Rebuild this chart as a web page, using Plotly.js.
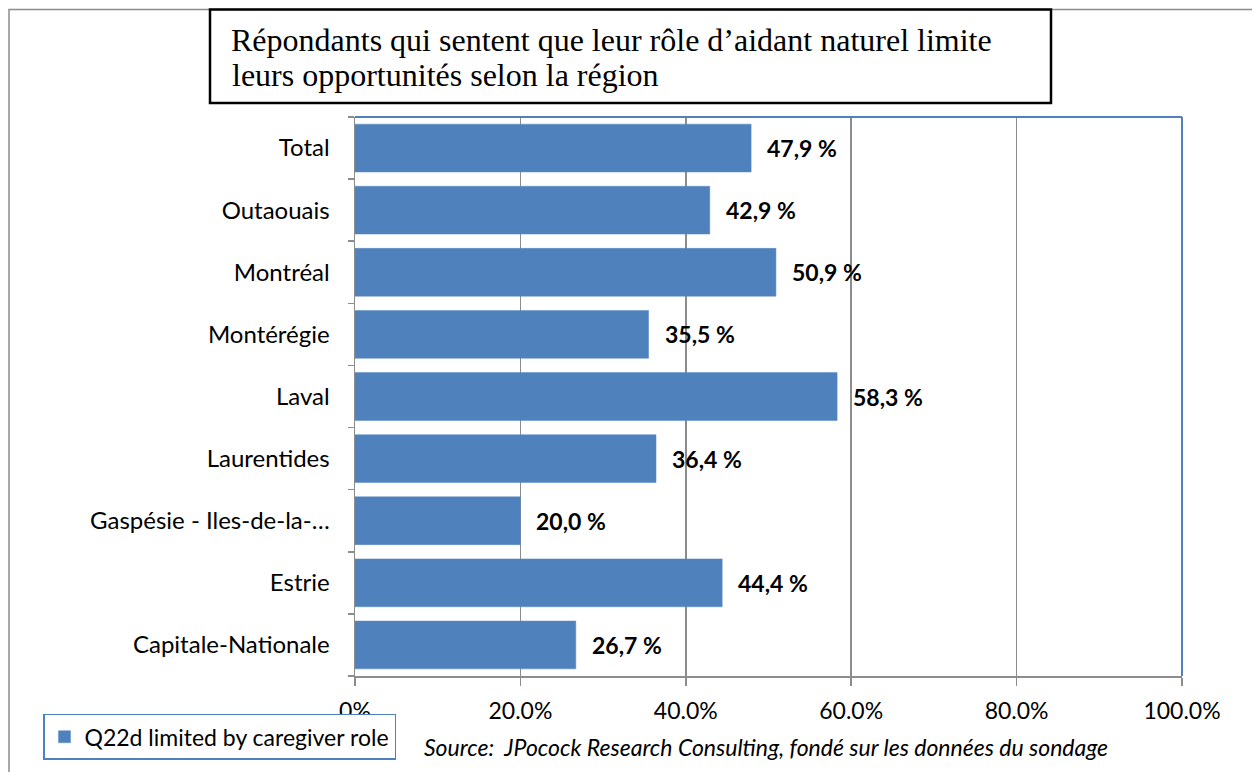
<!DOCTYPE html>
<html><head><meta charset="utf-8">
<script src="https://cdn.plot.ly/plotly-3.0.1.min.js"></script>
<style>html,body{margin:0;padding:0;background:#fff;}#chart{width:1252px;height:772px;}</style>
</head><body><div id="chart"></div>
<script>
const categories = ["Capitale-Nationale","Estrie","Gaspésie - Iles-de-la-…","Laurentides","Laval","Montérégie","Montréal","Outaouais","Total"];
const values = [26.7, 44.4, 20.0, 36.4, 58.3, 35.5, 50.9, 42.9, 47.9];
const tickVals = [0,20,40,60,80,100];
const tickText = ["0%","20.0%","40.0%","60.0%","80.0%","100.0%"];
const seriesName = "Q22d limited by caregiver role";
const titleLine1 = "Répondants qui sentent que leur rôle d’aidant naturel limite";
const titleLine2 = "leurs opportunités selon la région";
const sourceText = "Source:  JPocock Research Consulting, fondé sur les données du sondage";

const W=1252,H=772, L=355, R=1182, T=117, B=679;
const px = x => (x-L)/(R-L);
const py = y => (B-y)/(B-T);
const fnt = "Lato, 'Open Sans', sans-serif";
const serif = "'Liberation Serif', 'Times New Roman', serif";

const labels = values.map(v => v.toFixed(1).replace('.', ',') + ' %');
const annotations = values.map((v,i)=>({
  x: v, y: categories[i], xref:'x', yref:'y', text: '<b>'+labels[i]+'</b>',
  showarrow:false, xanchor:'left', xshift:14, font:{family:fnt,size:23,color:'#000'}
}));
annotations.push({xref:'paper',yref:'paper',x:px(422),y:py(750),xanchor:'left',yanchor:'middle',
  text:'<i>'+sourceText+'</i>',showarrow:false,font:{family:fnt,size:23,color:'#000'}});
annotations.push({xref:'paper',yref:'paper',x:px(230),y:py(75),xanchor:'left',yanchor:'middle',
  text:titleLine2,showarrow:false,font:{family:serif,size:32,color:'#000'}});

const data=[{type:'bar',orientation:'h',y:categories,x:values,name:seriesName,
  marker:{color:'#4F81BD',line:{color:'#5A8AC6',width:0.5}},width:0.77,hoverinfo:'x+y'}];

const layout={
  width:W,height:H,margin:{l:L,r:W-R,t:T,b:H-B},
  paper_bgcolor:'#fff',plot_bgcolor:'#fff',
  title:{text:titleLine1,xref:'container',yref:'container',x:231/W,xanchor:'left',y:1-40/H,yanchor:'middle',
    font:{family:serif,size:32,color:'#000'}},
  xaxis:{range:[0,100],tickvals:tickVals,ticktext:tickText,showgrid:true,gridcolor:'#8c8c8c',gridwidth:1.5,
    zeroline:false,showline:true,linecolor:'#8c8c8c',linewidth:1.5,ticks:'outside',ticklen:8,tickcolor:'#8c8c8c',tickwidth:1.5,
    tickfont:{family:fnt,size:23,color:'#000'},ticklabelstandoff:6,fixedrange:true},
  yaxis:{type:'category',categoryorder:'array',categoryarray:categories,showline:true,linecolor:'#8c8c8c',linewidth:1.5,
    ticks:'outside',ticklen:6,tickcolor:'#8c8c8c',tickwidth:1.5,tickson:'boundaries',showgrid:false,
    tickfont:{family:fnt,size:24,color:'#000'},ticklabelstandoff:19,fixedrange:true},
  showlegend:true,
  legend:{x:px(43),y:py(717),xanchor:'left',yanchor:'top',bordercolor:'#4F81BD',borderwidth:1.5,bgcolor:'#fff',
    font:{family:fnt,size:23,color:'#000'},itemwidth:30,tracegroupgap:0},
  shapes:[
    {type:'rect',xref:'paper',yref:'paper',x0:px(9),x1:px(1262),y0:py(782),y1:py(9),line:{color:'#8c8c8c',width:1.5},layer:'below'},
    {type:'line',xref:'paper',yref:'paper',x0:0,x1:1,y0:1,y1:1,line:{color:'#4F81BD',width:2}},
    {type:'line',xref:'paper',yref:'paper',x0:1,x1:1,y0:0,y1:1,line:{color:'#4F81BD',width:2}},
    {type:'rect',xref:'paper',yref:'paper',x0:px(210),x1:px(1051),y0:py(103),y1:py(9),line:{color:'#000',width:2.5},fillcolor:'rgba(0,0,0,0)'}
  ],
  annotations:annotations,
  bargap:0.23
};
Plotly.newPlot('chart',data,layout,{displayModeBar:false,staticPlot:true});
</script></body></html>
